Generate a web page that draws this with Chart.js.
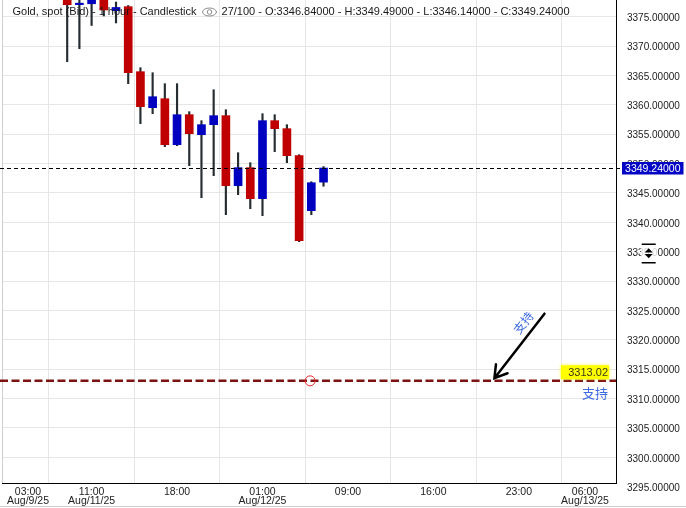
<!DOCTYPE html>
<html>
<head>
<meta charset="utf-8">
<script src="https://cdn.jsdelivr.net/npm/chart.js@4/dist/chart.umd.min.js"></script>
<style>
html, body { margin: 0; padding: 0; background: #fff; }
canvas { display: block; }
</style>
</head>
<body>
<canvas id="chart" width="686" height="508"></canvas>
<script>
// hourly candles, index 0 = Aug 11 09:00
const candleIdx = [0, 1, 2, 3, 4, 5, 6, 7, 8, 9, 10, 11, 12, 13, 14, 15, 16, 17, 18, 19, 20, 21];
const openVals  = [3381.00, 3377.05, 3377.20, 3379.50, 3376.02, 3376.70, 3365.64, 3359.51, 3361.04, 3353.21, 3358.32,
                   3354.91, 3356.62, 3358.15, 3346.23, 3349.30, 3344.02, 3357.30, 3355.94, 3351.34, 3341.98, 3346.84];
const highVals  = [3382.50, 3379.50, 3381.50, 3380.50, 3377.50, 3376.90, 3366.32, 3365.47, 3363.60, 3363.60, 3358.83,
                   3357.30, 3362.57, 3359.17, 3351.85, 3350.15, 3358.49, 3358.32, 3356.62, 3351.51, 3346.91, 3349.49];
const lowVals   = [3367.34, 3369.55, 3373.50, 3375.12, 3373.93, 3363.60, 3356.79, 3358.49, 3352.87, 3353.04, 3349.64,
                   3344.19, 3347.94, 3341.30, 3344.70, 3342.32, 3341.13, 3352.02, 3350.15, 3336.70, 3341.30, 3346.14];
const closeVals = [3377.04, 3377.30, 3379.50, 3376.14, 3376.57, 3365.47, 3359.68, 3361.38, 3353.21, 3358.32, 3355.09,
                   3356.62, 3358.15, 3346.23, 3349.30, 3344.02, 3357.30, 3355.94, 3351.34, 3336.87, 3346.74, 3349.24];

const xTickIdx  = [-5, 2, 9, 16, 23, 30, 37, 44];
const xTickTime = ['03:00', '11:00', '18:00', '01:00', '09:00', '16:00', '23:00', '06:00'];
const xTickDate = ['Aug/9/25', 'Aug/11/25', '', 'Aug/12/25', '', '', '', 'Aug/13/25'];
const yTicks = [3295, 3300, 3305, 3310, 3315, 3320, 3325, 3330, 3335, 3340, 3345, 3350, 3355, 3360, 3365, 3370, 3375];

const titleText = 'Gold, spot (Bid) - 1 hour - Candlestick';
const barCount = '27/100';
const supportLevel = 3313.02;
const supportText = '支持';
const markerIdx = 19.9;
const arrowFrom = { x: 39.1, y: 3324.45 };
const arrowTo = { x: 35.0, y: 3313.47 };

const UP = '#0000c0', DOWN = '#c00000', WICK = '#262d31', NOTE = '#3d6be0';
const FONT = "'Liberation Sans', Arial, sans-serif";

const bodyColors = candleIdx.map((_, i) => closeVals[i] >= openVals[i] ? UP : DOWN);

const overlay = {
    id: 'overlay',
    afterDraw(chart) {
        const { ctx, chartArea: a, scales: { x, y } } = chart;
        ctx.save();

        // frame lines
        ctx.strokeStyle = '#cfcfcf';
        ctx.lineWidth = 1;
        ctx.beginPath();
        ctx.moveTo(a.left + 0.5, 0);
        ctx.lineTo(a.left + 0.5, a.bottom);
        ctx.moveTo(0, 506.5);
        ctx.lineTo(686, 506.5);
        ctx.stroke();

        // y labels
        ctx.fillStyle = '#222';
        ctx.font = '10px ' + FONT;
        ctx.textAlign = 'left';
        ctx.textBaseline = 'middle';
        yTicks.forEach(v => {
            ctx.fillText(v.toFixed(5), a.right + 11, y.getPixelForValue(v) + 1.5);
        });

        // x labels
        ctx.font = '10.5px ' + FONT;
        ctx.textAlign = 'center';
        xTickIdx.forEach((v, i) => {
            let px = x.getPixelForValue(v);
            px = Math.min(Math.max(px, a.left + 26), a.right - 31);
            ctx.fillText(xTickTime[i], px, a.bottom + 9);
            if (xTickDate[i]) ctx.fillText(xTickDate[i], px, a.bottom + 18.5);
        });

        // last price line + box
        const last = closeVals[closeVals.length - 1];
        const py = Math.round(y.getPixelForValue(last)) + 0.5;
        ctx.strokeStyle = '#000';
        ctx.setLineDash([4, 3]);
        ctx.beginPath();
        ctx.moveTo(0, py);
        ctx.lineTo(a.right + 6, py);
        ctx.stroke();
        ctx.setLineDash([]);
        ctx.fillStyle = '#0404c4';
        ctx.fillRect(a.right + 6, py - 6.5, 61.5, 12.5);
        ctx.fillStyle = '#fff';
        ctx.font = '10.5px ' + FONT;
        ctx.textAlign = 'center';
        ctx.fillText(last.toFixed(5), a.right + 36.8, py + 0.5);

        // small scale widget near 3335
        const wy = y.getPixelForValue(3335) + 1.5;
        const wx = a.right + 32.7;
        ctx.fillStyle = 'rgba(255,255,255,0.8)';
        ctx.fillRect(wx - 8, wy - 9, 17, 18);
        ctx.strokeStyle = '#000';
        ctx.lineWidth = 1.5;
        ctx.beginPath();
        ctx.moveTo(wx - 7, wy - 9);
        ctx.lineTo(wx + 7, wy - 9);
        ctx.moveTo(wx - 7, wy + 9.5);
        ctx.lineTo(wx + 7, wy + 9.5);
        ctx.stroke();
        ctx.fillStyle = '#000';
        ctx.beginPath();
        ctx.moveTo(wx, wy - 5);
        ctx.lineTo(wx - 4, wy - 0.8);
        ctx.lineTo(wx + 4, wy - 0.8);
        ctx.closePath();
        ctx.moveTo(wx, wy + 5);
        ctx.lineTo(wx - 4, wy + 0.8);
        ctx.lineTo(wx + 4, wy + 0.8);
        ctx.closePath();
        ctx.fill();

        // support line
        const sy = y.getPixelForValue(supportLevel);
        ctx.strokeStyle = '#7c1212';
        ctx.lineWidth = 2.5;
        ctx.setLineDash([8, 3.5]);
        ctx.beginPath();
        ctx.moveTo(0, sy);
        ctx.lineTo(a.right, sy);
        ctx.stroke();
        ctx.setLineDash([]);

        ctx.strokeStyle = '#e82828';
        ctx.lineWidth = 1;
        ctx.beginPath();
        ctx.arc(x.getPixelForValue(markerIdx), sy, 5, 0, Math.PI * 2);
        ctx.stroke();

        // yellow price tag
        ctx.fillStyle = '#ffff00';
        ctx.shadowColor = '#ffff00';
        ctx.shadowBlur = 3;
        ctx.fillRect(a.right - 55, sy - 15.5, 48, 14);
        ctx.shadowBlur = 0;
        ctx.fillStyle = '#3a3a1a';
        ctx.font = '11px ' + FONT;
        ctx.textAlign = 'right';
        ctx.fillText(supportLevel.toFixed(2), a.right - 8, sy - 7.5);

        ctx.fillStyle = NOTE;
        ctx.font = "13px 'Noto Sans CJK SC', sans-serif";
        ctx.fillText(supportText, a.right - 8, sy + 12);

        // arrow
        const ax0 = x.getPixelForValue(arrowFrom.x), ay0 = y.getPixelForValue(arrowFrom.y);
        const ax1 = x.getPixelForValue(arrowTo.x), ay1 = y.getPixelForValue(arrowTo.y);
        const ang = Math.atan2(ay0 - ay1, ax0 - ax1);
        ctx.strokeStyle = '#000';
        ctx.lineWidth = 2.5;
        ctx.lineCap = 'round';
        ctx.beginPath();
        ctx.moveTo(ax0, ay0);
        ctx.lineTo(ax1, ay1);
        ctx.moveTo(ax1 + 14 * Math.cos(ang - 0.55), ay1 + 14 * Math.sin(ang - 0.55));
        ctx.lineTo(ax1, ay1);
        ctx.lineTo(ax1 + 14 * Math.cos(ang + 0.55), ay1 + 14 * Math.sin(ang + 0.55));
        ctx.stroke();

        const len = 61.6, off = 11.2;
        const tx = ax1 + len * Math.cos(ang) + off * Math.sin(ang);
        const ty = ay1 + len * Math.sin(ang) - off * Math.cos(ang);
        ctx.save();
        ctx.translate(tx, ty);
        ctx.rotate(ang);
        ctx.fillStyle = NOTE;
        ctx.font = "12px 'Noto Sans CJK SC', sans-serif";
        ctx.textAlign = 'center';
        ctx.fillText(supportText, 0, 0);
        ctx.restore();

        // header
        const o = openVals.length - 1;
        ctx.fillStyle = '#1a1a1a';
        ctx.font = '11px ' + FONT;
        ctx.textAlign = 'left';
        ctx.fillText(titleText, 12.5, 12);
        const ex = 12.5 + ctx.measureText(titleText).width + 13;
        ctx.strokeStyle = '#8a8a8a';
        ctx.lineWidth = 1;
        ctx.beginPath();
        ctx.ellipse(ex, 12, 7, 4, 0, 0, Math.PI * 2);
        ctx.stroke();
        ctx.beginPath();
        ctx.arc(ex, 12, 2.3, 0, Math.PI * 2);
        ctx.stroke();
        const info = barCount + ' - O:' + openVals[o].toFixed(5) + ' - H:' + highVals[o].toFixed(5) +
            ' - L:' + lowVals[o].toFixed(5) + ' - C:' + closeVals[o].toFixed(5);
        ctx.fillText(info, ex + 12, 12);

        ctx.restore();
    }
};

new Chart(document.getElementById('chart'), {
    type: 'bar',
    data: {
        datasets: [{
            label: 'body',
            data: candleIdx.map((v, i) => ({ x: v, y: [openVals[i], closeVals[i]] })),
            backgroundColor: bodyColors,
            barThickness: 8,
            minBarLength: 1,
            grouped: false,
            order: 0
        }, {
            label: 'wick',
            data: candleIdx.map((v, i) => ({ x: v, y: [lowVals[i], highVals[i]] })),
            backgroundColor: WICK,
            barThickness: 1.5,
            grouped: false,
            order: 1
        }]
    },
    options: {
        responsive: false,
        animation: false,
        devicePixelRatio: 1,
        layout: { padding: { left: 2, top: 0, right: 0, bottom: 0 } },
        plugins: { legend: { display: false }, tooltip: { enabled: false } },
        scales: {
            x: {
                type: 'linear',
                offset: false,
                min: -5.34,
                max: 44.96,
                grid: { color: '#e6e6e6', drawTicks: false },
                border: { color: '#000', width: 1 },
                ticks: { display: false },
                afterBuildTicks: s => { s.ticks = xTickIdx.filter(v => v > s.min + 1).map(v => ({ value: v })); },
                afterFit: s => { s.height = 25; s.paddingLeft = 0; s.paddingRight = 0; }
            },
            y: {
                position: 'right',
                min: 3295.63,
                max: 3377.84,
                grid: { color: '#e6e6e6', drawTicks: false },
                border: { color: '#000', width: 1 },
                ticks: { display: false },
                afterBuildTicks: s => { s.ticks = yTicks.filter(v => v >= s.min && v <= s.max).map(v => ({ value: v })); },
                afterFit: s => { s.width = 70; s.paddingTop = 0; s.paddingBottom = 0; }
            }
        }
    },
    plugins: [overlay]
});
</script>
</body>
</html>
